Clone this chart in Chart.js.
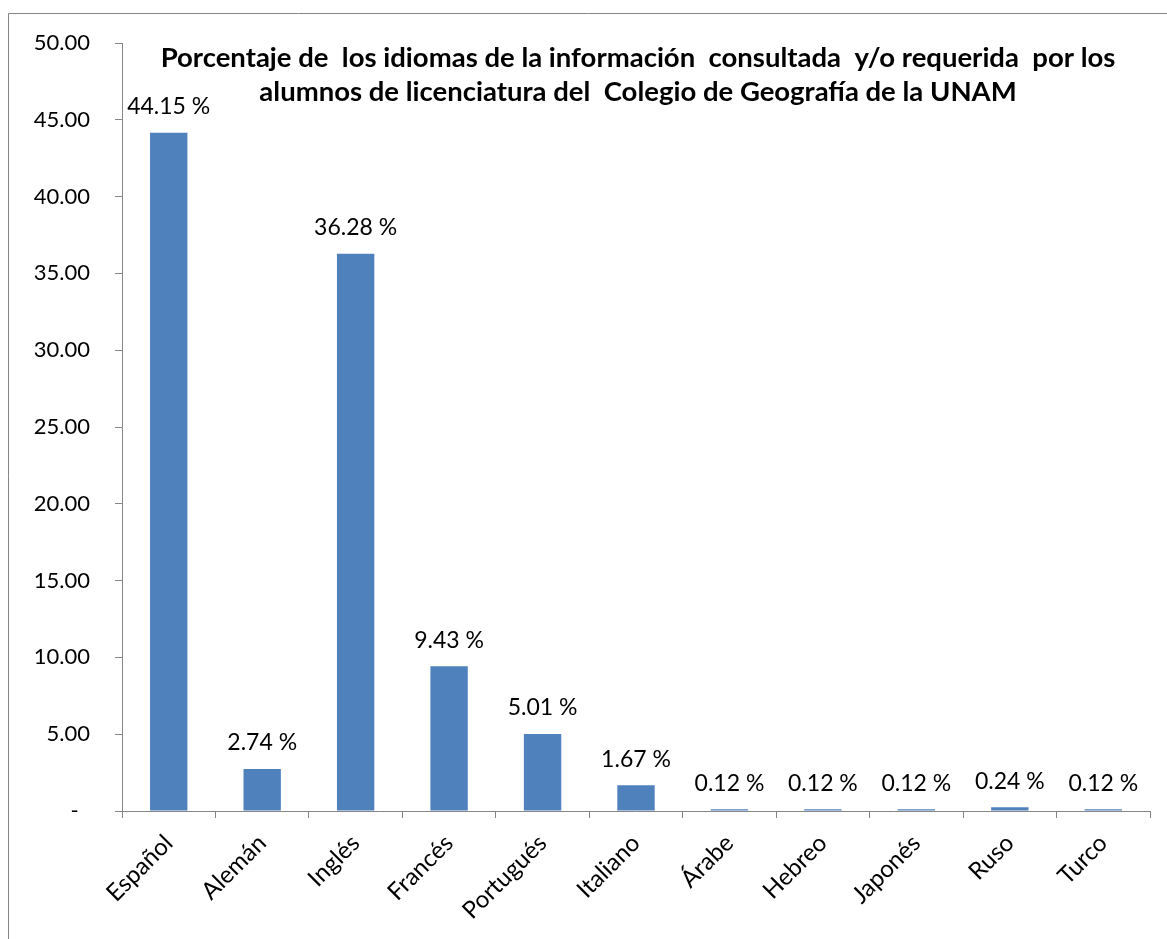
<!DOCTYPE html>
<html>
<head>
<meta charset="utf-8">
<script src="https://cdn.jsdelivr.net/npm/chart.js@4"></script>
<style>
html,body{margin:0;padding:0;background:#fff;}
#wrap{width:1167px;height:939px;position:relative;}
</style>
</head>
<body>
<div id="wrap"><canvas id="c" width="1167" height="939"></canvas></div>
<script>
const categories = ['Español','Alemán','Inglés','Francés','Portugués','Italiano','Árabe','Hebreo','Japonés','Ruso','Turco'];
const percentages = [44.15, 2.74, 36.28, 9.43, 5.01, 1.67, 0.12, 0.12, 0.12, 0.24, 0.12];
const yTicks = [0,5,10,15,20,25,30,35,40,45,50];
const titleLines = ['Porcentaje de  los idiomas de la información  consultada  y/o requerida  por los',
                    'alumnos de licenciatura del  Colegio de Geografía de la UNAM'];

const FONT = 'Lato, "Open Sans", sans-serif';
const AXIS_COLOR = '#868686';

const framePlugin = {
  id: 'frame',
  beforeDraw(chart) {
    const ctx = chart.ctx;
    ctx.save();
    ctx.strokeStyle = AXIS_COLOR;
    ctx.lineWidth = 1;
    ctx.beginPath();
    ctx.moveTo(8.5, chart.height + 5);
    ctx.lineTo(8.5, 13.5);
    ctx.lineTo(chart.width + 5, 13.5);
    ctx.stroke();
    ctx.restore();
  }
};

const labelPlugin = {
  id: 'valueLabels',
  afterDatasetsDraw(chart) {
    const ctx = chart.ctx;
    const meta = chart.getDatasetMeta(0);
    ctx.save();
    ctx.font = '23px ' + FONT;
    ctx.fillStyle = '#000';
    ctx.textAlign = 'center';
    ctx.textBaseline = 'middle';
    meta.data.forEach((el, i) => {
      ctx.fillText(percentages[i].toFixed(2) + ' %', el.x, el.y - 26);
    });
    ctx.restore();
  }
};

const titlePlugin = {
  id: 'overTitle',
  afterDraw(chart) {
    const ctx = chart.ctx;
    const area = chart.chartArea;
    const cx = (area.left + area.right) / 2 + 2;
    ctx.save();
    ctx.font = 'bold 27.5px ' + FONT;
    ctx.fillStyle = '#000';
    ctx.textAlign = 'center';
    ctx.textBaseline = 'middle';
    titleLines.forEach((t, i) => ctx.fillText(t, cx, area.top + 15 + i * 34));
    ctx.restore();
  }
};

new Chart(document.getElementById('c'), {
  type: 'bar',
  data: {
    labels: categories,
    datasets: [{
      data: percentages,
      backgroundColor: '#4F81BD',
      borderWidth: 0,
      categoryPercentage: 1.0,
      barPercentage: 0.40
    }]
  },
  options: {
    responsive: false,
    animation: false,
    layout: { padding: { top: 43, right: 17, left: 0, bottom: 0 } },
    plugins: {
      legend: { display: false },
      tooltip: { enabled: false },
      title: { display: false }
    },
    scales: {
      x: {
        border: { color: AXIS_COLOR, width: 1 },
        grid: { display: true, drawOnChartArea: false, drawTicks: true, tickLength: 7, color: AXIS_COLOR, offset: true },
        ticks: { color: '#000', font: { family: FONT, size: 24 }, maxRotation: 45, minRotation: 45, autoSkip: false, padding: 11 },
        afterFit(scale) { scale.height = 128; }
      },
      y: {
        min: 0, max: 50,
        afterBuildTicks(scale) { scale.ticks = yTicks.map(v => ({ value: v })); },
        border: { color: AXIS_COLOR, width: 1 },
        grid: { display: true, drawOnChartArea: false, drawTicks: true, tickLength: 7, color: AXIS_COLOR },
        ticks: {
          color: '#000', font: { family: FONT, size: 22 }, padding: 25,
          callback: (v) => v === 0 ? '-  ' : Number(v).toFixed(2)
        },
        afterFit(scale) { scale.width = 122; }
      }
    }
  },
  plugins: [framePlugin, labelPlugin, titlePlugin]
});
</script>
</body>
</html>
